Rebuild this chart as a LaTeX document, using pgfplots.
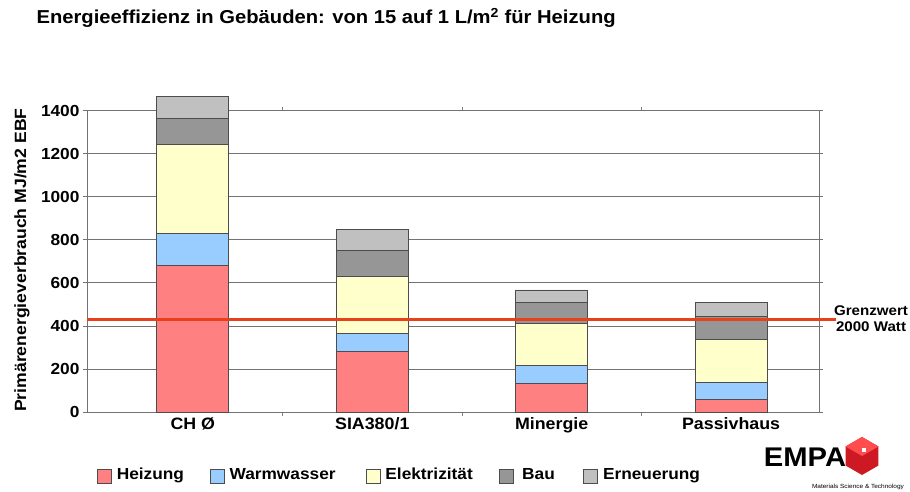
\documentclass[border=0pt]{standalone}
\usepackage{pgfplots}
\pgfplotsset{compat=1.18}
\usepackage{fontspec}
\setmainfont{Liberation Sans}[FakeStretch=1.08]

\definecolor{heizung}{RGB}{255,128,128}
\definecolor{warmwasser}{RGB}{153,204,255}
\definecolor{elektro}{RGB}{255,255,204}
\definecolor{bau}{RGB}{150,150,150}
\definecolor{erneuerung}{RGB}{192,192,192}
\definecolor{grenz}{RGB}{232,64,28}
\definecolor{empared}{RGB}{205,25,35}

\begin{document}
\begin{tikzpicture}
\useasboundingbox (0,0) rectangle (910pt,492pt);

\node[anchor=west, font=\bfseries\fontsize{18.7}{19}\selectfont] at (33pt,474pt)
  {Energieeffizienz in Gebäuden: von 15 auf 1 L/m\textsuperscript{2} für Heizung};

% stacked bars
\begin{axis}[
    at={(87pt,80pt)}, anchor=south west,
    scale only axis, width=732pt, height=301.3pt,
    ybar stacked, bar width=72pt,
    xmin=-0.59, xmax=3.49, ymin=0, ymax=1400,
    clip=false,
    axis line style={gray!90!black, line width=0.8pt},
    ymajorgrids, grid style={gray!90!black, line width=0.8pt},
    ytick={0,200,...,1400},
    tick align=outside,
    ytick style={gray!90!black, line width=0.8pt},
    major tick length=4pt,
    xtick={0.5,1.5,2.5}, xticklabels={},
    xtick style={gray, line width=0.6pt},
    extra x ticks={0,1,2,3},
    extra x tick labels={CH Ø,SIA380/1,Minergie,Passivhaus},
    extra x tick style={major tick length=0pt},
    xticklabel style={font=\bfseries\fontsize{16.5}{16.5}\selectfont, yshift=-2pt},
    yticklabel style={font=\bfseries\fontsize{16}{16}\selectfont},
    /pgf/number format/assume math mode=true,
    /pgf/number format/1000 sep={},
    ylabel={Primärenergieverbrauch MJ/m2 EBF},
    ylabel style={font=\bfseries\fontsize{16.3}{16.3}\selectfont,
      at={(axis description cs:-0.089,0.504)}, anchor=center},
    legend columns=5,
    legend style={at={(0.0137,-0.2124)}, anchor=west, draw=none,
      inner sep=0pt, outer sep=0pt,
      font=\bfseries\fontsize{16}{16}\selectfont,
      nodes={inner sep=0pt, text height=11.5pt, text depth=3.5pt, anchor=west},
      /tikz/every odd column/.append style={column sep=5pt},
      /tikz/every even column/.append style={column sep=0pt}},
    legend image code/.code={\draw[#1] (0pt,-7pt) rectangle (14pt,7pt);},
    every axis plot/.append style={draw=black!70, line width=0.8pt},
]
\addplot[fill=heizung] coordinates {(0,680) (1,283) (2,132) (3,59)};
\addplot[fill=warmwasser] coordinates {(0,150) (1,83) (2,83) (3,80)};
\addplot[fill=elektro] coordinates {(0,415) (1,263) (2,197) (3,200)};
\addplot[fill=bau] coordinates {(0,120) (1,122) (2,98) (3,107)};
\addplot[fill=erneuerung] coordinates {(0,100) (1,98) (2,57) (3,61)};
\legend{\makebox[93pt][l]{Heizung}, \makebox[136pt][l]{Warmwasser},
  \makebox[114pt][l]{Elektrizität}, \makebox[64pt][l]{\hspace{3pt}Bau},
  \makebox[120pt][l]{Erneuerung}}
\end{axis}

% limit line on top
\begin{axis}[
    at={(87pt,80pt)}, anchor=south west,
    scale only axis, width=732pt, height=301.3pt,
    xmin=-0.59, xmax=3.49, ymin=0, ymax=1400,
    hide axis, clip=false,
]
\addplot[grenz, line width=3pt] coordinates {(-0.59,430) (3.585,430)};
\node[font=\bfseries\fontsize{14}{16}\selectfont, align=center]
  at (axis cs:3.78,434) {Grenzwert\\2000 Watt};
\end{axis}

% EMPA logo
\node[font=\bfseries\fontsize{27}{27}\selectfont, inner sep=0pt] at (805pt,35pt) {EMPA};
\fill[empared] (862pt,36pt) +(90:19pt) -- +(150:19pt) -- +(210:19pt) -- +(270:19pt)
  -- +(330:19pt) -- +(30:19pt) -- cycle;
\fill[red!70!white] (862pt,36pt) +(90:19pt) -- +(150:19pt) -- (862pt,36pt) -- +(30:19pt) -- cycle;
\fill[white] (862pt,40pt) rectangle (866pt,44pt);
\node[font=\fontsize{6}{6}\selectfont] at (858pt,5pt) {Materials Science \& Technology};
\end{tikzpicture}
\end{document}
